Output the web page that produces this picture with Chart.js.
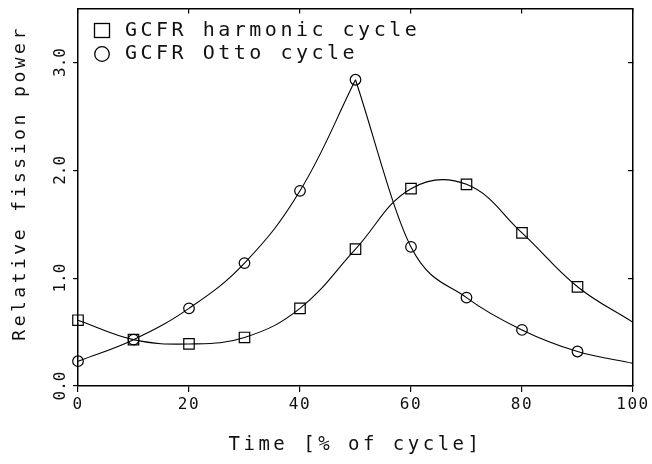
<!DOCTYPE html>
<html lang="en">

<head>
    <meta charset="UTF-8">
    <title>Relative fission power over the cycle</title>
    <script src="https://cdn.jsdelivr.net/npm/chart.js"></script>
    <style>
        html, body { margin: 0; padding: 0; background: #fff; }
    </style>
</head>

<body>
    <canvas id="powerChart" width="652" height="464"></canvas>

    <script>
        // time in % of cycle, power relative to the mean
        const timePoints = [0, 10, 20, 30, 40, 50, 60, 70, 80, 90, 100];
        const harmonicPower = [0.61, 0.43, 0.39, 0.45, 0.72, 1.27, 1.83, 1.87, 1.42, 0.92, 0.59];

        // Otto cycle split at the peak so the curve keeps its sharp corner at 50 %
        const ottoRiseTime = [0, 10, 20, 30, 40, 50];
        const ottoRisePower = [0.23, 0.43, 0.72, 1.14, 1.81, 2.84];
        const ottoFallTime = [50, 60, 70, 80, 90, 100];
        const ottoFallPower = [2.84, 1.29, 0.82, 0.52, 0.32, 0.21];

        const xTicks = [0, 20, 40, 60, 80, 100];
        const yTicks = [0, 1, 2, 3];
        const legendLabels = ['GCFR harmonic cycle', 'GCFR Otto cycle'];

        const FONT = "'DejaVu Sans Mono', monospace";

        function toPoints(xs, ys) {
            return xs.map((x, i) => ({ x: x, y: ys[i] }));
        }

        // open markers for the legend, drawn a bit right of the icon centre
        function legendIcon(shape) {
            const c = document.createElement('canvas');
            c.width = 34;
            c.height = 18;
            const g = c.getContext('2d');
            g.strokeStyle = '#000';
            g.lineWidth = 1.3;
            if (shape === 'rect') {
                g.strokeRect(13.5, 1.5, 15, 14);
            } else {
                g.beginPath();
                g.arc(21, 9, 7.3, 0, Math.PI * 2);
                g.stroke();
            }
            return c;
        }
        const legendIcons = [legendIcon('rect'), legendIcon('circle')];

        // no marker on the closing point at 100 %
        const harmonicRadius = timePoints.map(t => t < 100 ? 7.4 : 0);
        const riseRadius = ottoRiseTime.map(() => 5.3);
        const fallRadius = ottoFallTime.map((t, i) => (i === 0 || t === 100) ? 0 : 5.3);

        const lineStyle = {
            borderColor: '#000',
            borderWidth: 1.1,
            tension: 0.4,
            pointBorderColor: '#000',
            pointBackgroundColor: 'rgba(0,0,0,0)',
            pointBorderWidth: 1.2,
            clip: false
        };

        // letter spacing is part of the canvas state, so it is set at draw time
        const textSpacing = {
            id: 'textSpacing',
            beforeDraw(chart) {
                chart.ctx.letterSpacing = '3.5px';
            },
            afterDatasetsDraw(chart) {
                chart.ctx.letterSpacing = '1.5px';
            },
            afterDraw(chart) {
                // y tick labels are written upright along the axis
                const ctx = chart.ctx;
                const y = chart.scales.y;
                ctx.save();
                ctx.letterSpacing = '0px';
                ctx.font = '16px ' + FONT;
                ctx.fillStyle = '#111';
                ctx.textAlign = 'center';
                ctx.textBaseline = 'middle';
                yTicks.forEach(v => {
                    ctx.save();
                    ctx.translate(y.right - 17, y.getPixelForValue(v));
                    ctx.rotate(-Math.PI / 2);
                    ctx.fillText(v.toFixed(1), 0, 0);
                    ctx.restore();
                });
                ctx.restore();
            }
        };

        const frame = { color: '#000', width: 1.5 };

        new Chart(document.getElementById('powerChart'), {
            type: 'line',
            data: {
                datasets: [
                    Object.assign({ label: legendLabels[0], data: toPoints(timePoints, harmonicPower), pointStyle: 'rect', pointRadius: harmonicRadius }, lineStyle),
                    Object.assign({ label: legendLabels[1], data: toPoints(ottoRiseTime, ottoRisePower), pointStyle: 'circle', pointRadius: riseRadius }, lineStyle),
                    Object.assign({ label: legendLabels[1], data: toPoints(ottoFallTime, ottoFallPower), pointStyle: 'circle', pointRadius: fallRadius, cubicInterpolationMode: 'monotone' }, lineStyle)
                ]
            },
            options: {
                responsive: false,
                animation: false,
                events: [],
                layout: { padding: { top: 6, right: 19, left: 0, bottom: 0 } },
                plugins: {
                    tooltip: { enabled: false },
                    legend: {
                        position: 'chartArea',
                        align: 'start',
                        title: { display: true, text: '', font: { size: 0 }, padding: { top: 18, bottom: 0 } },
                        labels: {
                            usePointStyle: true,
                            pointStyleWidth: 34,
                            padding: 3,
                            color: '#111',
                            font: { family: FONT, size: 20 },
                            generateLabels: () => legendLabels.map((text, i) => ({
                                text: text,
                                pointStyle: legendIcons[i],
                                datasetIndex: i,
                                hidden: false,
                                lineWidth: 0,
                                fillStyle: 'rgba(0,0,0,0)',
                                strokeStyle: 'rgba(0,0,0,0)',
                                fontColor: '#111'
                            }))
                        }
                    }
                },
                scales: {
                    x: {
                        type: 'linear',
                        position: 'bottom',
                        min: 0,
                        max: 100,
                        afterBuildTicks: s => { s.ticks = xTicks.map(v => ({ value: v })); },
                        afterFit: s => { s.height = 78; },
                        ticks: { color: '#111', font: { family: FONT, size: 16 }, padding: 3, z: 1, maxRotation: 0 },
                        grid: { drawOnChartArea: false, color: '#000', lineWidth: 1.2, tickLength: 6 },
                        border: frame,
                        title: {
                            display: true,
                            text: 'Time [% of cycle]',
                            color: '#111',
                            font: { family: FONT, size: 19 },
                            padding: { top: 0, bottom: 8 }
                        }
                    },
                    y: {
                        type: 'linear',
                        position: 'left',
                        min: 0,
                        max: 3.5,
                        afterBuildTicks: s => { s.ticks = yTicks.map(v => ({ value: v })); },
                        afterFit: s => { s.width = 78; },
                        ticks: { display: false },
                        grid: { drawOnChartArea: false, color: '#000', lineWidth: 1.2, tickLength: 5 },
                        border: frame,
                        title: {
                            display: true,
                            // leading blanks lift the centred title a little along the axis
                            text: '  Relative fission power',
                            color: '#111',
                            font: { family: FONT, size: 18 },
                            padding: { top: 10, bottom: 0 }
                        }
                    },
                    xTop: {
                        type: 'linear',
                        position: 'top',
                        min: 0,
                        max: 100,
                        afterBuildTicks: s => { s.ticks = xTicks.map(v => ({ value: v })); },
                        afterFit: s => { s.height = 0; },
                        ticks: { display: false },
                        grid: { drawOnChartArea: false, color: '#000', lineWidth: 1.2, tickLength: -5 },
                        border: frame
                    },
                    yRight: {
                        type: 'linear',
                        position: 'right',
                        min: 0,
                        max: 3.5,
                        afterBuildTicks: s => { s.ticks = yTicks.map(v => ({ value: v })); },
                        afterFit: s => { s.width = 0; },
                        ticks: { display: false },
                        grid: { drawOnChartArea: false, color: '#000', lineWidth: 1.2, tickLength: -5 },
                        border: frame
                    }
                }
            },
            plugins: [textSpacing]
        });
    </script>
</body>

</html>
